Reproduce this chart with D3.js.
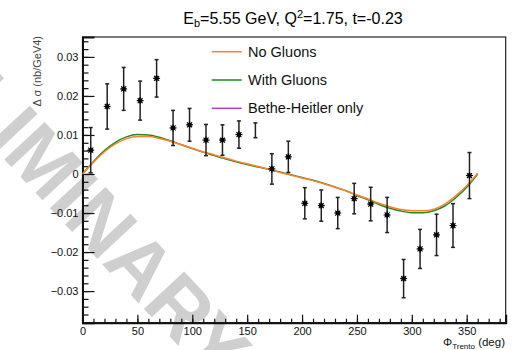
<!DOCTYPE html>
<html><head><meta charset="utf-8">
<script src="https://cdn.jsdelivr.net/npm/d3@7"></script>
<style>body{margin:0;background:#fff}svg{display:block}text{font-family:"Liberation Sans",Arial,sans-serif}</style>
</head><body><svg id="c" width="515" height="350"></svg>
<script>
// ---- data ----
const phiBins = [7.5,22.5,37.5,52.5,67.5,82.5,97.5,112.5,127.5,142.5,157.5,172.5,187.5,202.5,217.5,232.5,247.5,262.5,277.5,292.5,307.5,322.5,337.5,352.5];
const dsigma  = [0.0061,0.0173,0.0218,0.0188,0.0245,0.0118,0.0126,0.0087,0.0087,0.0101,0.0112,0.0013,0.0044,-0.0075,-0.0081,-0.0100,-0.0063,-0.0077,-0.0105,-0.0268,-0.0192,-0.0156,-0.0132,-0.0004];
const dsigmaErr = [0.0058,0.0058,0.0055,0.0050,0.0048,0.0045,0.0042,0.0040,0.0039,0.0035,0.0019,0.0039,0.0040,0.0040,0.0040,0.0040,0.0039,0.0043,0.0045,0.0049,0.0050,0.0053,0.0056,0.0059];
const markerShown = [1,1,1,1,1,1,1,1,1,1,0,1,1,1,1,1,1,1,1,1,1,1,1,1];
const curvePhi = [0,10,20,30,40,50,60,70,80,90,100,110,120,130,140,150,160,170,180,190,200,210,220,230,240,250,260,270,280,290,300,310,320,330,340,350,360];
const noGluons = [0,0.0030,0.0057,0.0077,0.0090,0.0096,0.0096,0.0091,0.0084,0.0075,0.0066,0.0057,0.0049,0.0041,0.0033,0.0026,0.0019,0.0012,0.0004,-0.0003,-0.0010,-0.0017,-0.0025,-0.0034,-0.0043,-0.0054,-0.0064,-0.0075,-0.0084,-0.0091,-0.0094,-0.0094,-0.0090,-0.0077,-0.0056,-0.0030,0.0002];
const withGluons = [0,0.0032,0.0060,0.0081,0.0095,0.0101,0.0100,0.0094,0.0085,0.0075,0.0065,0.0056,0.0047,0.0039,0.0031,0.0024,0.0018,0.0012,0.0005,-0.0002,-0.0009,-0.0016,-0.0024,-0.0033,-0.0043,-0.0055,-0.0066,-0.0078,-0.0088,-0.0095,-0.0099,-0.0099,-0.0094,-0.0082,-0.0061,-0.0034,0.0000];
const legendLabels = ["No Gluons","With Gluons","Bethe-Heitler only"];
const legendColors = ["#ff8030","#1e8a1e","#b040c0"];
const xMajor = [0,50,100,150,200,250,300,350];
const yMajor = [-0.03,-0.02,-0.01,0,0.01,0.02,0.03];
const xMinor = d3.range(0,390,10);
const yMinor = d3.range(-38,36,2).map(v=>v/1000);

const svg = d3.select("#c");
const L=82.5, R=505.7, T=37, B=322.7;
const x = d3.scaleLinear().domain([0,385.5]).range([L,R]);
const y = d3.scaleLinear().domain([-0.0381,0.0351]).range([B,T]);

// watermark
svg.append("text").attr("transform","translate(214,384) rotate(47)")
  .attr("text-anchor","end").attr("font-size",80).attr("font-weight","bold")
  .attr("fill","#cfcfcf").text("PRELIMINARY");

// frame
svg.append("rect").attr("x",L).attr("y",T).attr("width",R-L).attr("height",B-T)
  .attr("fill","none").attr("stroke","#222").attr("stroke-width",1.2);

const fmt = d => d===0 ? "0" : d3.format(".2f")(d);
// y axis
svg.append("g").attr("transform",`translate(${L},0)`)
  .call(d3.axisLeft(y).tickValues(yMajor).tickSize(-12).tickPadding(4).tickFormat(fmt));
svg.append("g").attr("transform",`translate(${L},0)`)
  .call(d3.axisLeft(y).tickValues(yMinor).tickSize(-6).tickFormat(""))
  .select(".domain").remove();
// x axis
svg.append("g").attr("transform",`translate(0,${B})`)
  .call(d3.axisBottom(x).tickValues(xMajor).tickSize(-8).tickPadding(5).tickFormat(d3.format("d")));
svg.append("g").attr("transform",`translate(0,${B})`)
  .call(d3.axisBottom(x).tickValues(xMinor).tickSize(-4).tickFormat(""))
  .select(".domain").remove();
svg.selectAll(".domain").attr("stroke","#111").attr("stroke-width",2);
svg.selectAll(".tick line").attr("stroke","#111").attr("stroke-width",1.2);
svg.selectAll(".tick text").attr("font-size",11).attr("fill","#111").style("font-family","'Liberation Sans',Arial,sans-serif");

// curves
const line = d3.line().curve(d3.curveMonotoneX);
const dGreen = curvePhi.map((p,i)=>[x(p),y(withGluons[i])]);
const dOrange = curvePhi.map((p,i)=>[x(p),y(noGluons[i])]);
svg.append("path").attr("d",line(dGreen)).attr("fill","none").attr("stroke",legendColors[1]).attr("stroke-width",1.5);
svg.append("path").attr("d",line(dOrange)).attr("fill","none").attr("stroke",legendColors[0]).attr("stroke-width",1.5);

// data points
const pts = svg.append("g");
phiBins.forEach((p,i)=>{
  const cx=x(p), v=dsigma[i], e=dsigmaErr[i];
  const g = pts.append("g").attr("stroke","#222").attr("stroke-width",1.5);
  g.append("line").attr("x1",cx).attr("x2",cx).attr("y1",y(v+e)).attr("y2",y(v-e));
  g.append("line").attr("x1",cx-2).attr("x2",cx+2).attr("y1",y(v+e)).attr("y2",y(v+e));
  g.append("line").attr("x1",cx-2).attr("x2",cx+2).attr("y1",y(v-e)).attr("y2",y(v-e));
  if(markerShown[i]){
    const cy=y(v);
    const m = pts.append("g").attr("stroke","#000").attr("stroke-width",1.1);
    [[3.5,0],[0,3.5],[2.5,2.5],[2.5,-2.5]].forEach(([dx,dy])=>{
      m.append("line").attr("x1",cx-dx).attr("x2",cx+dx).attr("y1",cy-dy).attr("y2",cy+dy);
    });
    pts.append("circle").attr("cx",cx).attr("cy",cy).attr("r",2.3).attr("fill","#000");
  }
});

// legend
const legY=[51.7,80,108.3];
legendLabels.forEach((t,i)=>{
  svg.append("line").attr("x1",211.7).attr("x2",241.7).attr("y1",legY[i]).attr("y2",legY[i])
    .attr("stroke",legendColors[i]).attr("stroke-width",1.5);
  svg.append("text").attr("x",248).attr("y",legY[i]+5).attr("font-size",14.5).attr("fill","#111").text(t);
});

// title
const tt = svg.append("text").attr("x",293).attr("y",24).attr("text-anchor","middle").attr("font-size",16).attr("fill","#000");
tt.append("tspan").text("E");
tt.append("tspan").attr("font-size",11).attr("dy",3).text("b");
tt.append("tspan").attr("dy",-3).text("=5.55 GeV, Q");
tt.append("tspan").attr("font-size",11).attr("dy",-6).text("2");
tt.append("tspan").attr("dy",6).text("=1.75, t=-0.23");

// axis titles
svg.append("text").attr("transform","translate(41,36) rotate(-90)").attr("text-anchor","end")
  .attr("font-size",11).attr("fill","#444").text("Δ σ (nb/GeV4)");
const xt = svg.append("text").attr("x",505).attr("y",346).attr("text-anchor","end").attr("font-size",11.5).attr("fill","#111");
xt.append("tspan").text("Φ");
xt.append("tspan").attr("font-size",8).attr("dy",3).text("Trento");
xt.append("tspan").attr("dy",-3).text(" (deg)");
</script></body></html>
